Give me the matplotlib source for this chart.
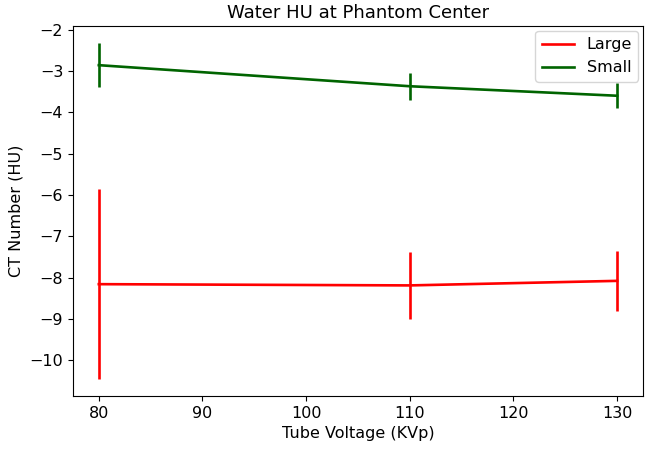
import numpy as np
import matplotlib
matplotlib.use('Agg')
import matplotlib.pyplot as plt

# Tube voltages and measured water CT numbers
kvp = [80, 110, 130]
large_mean = [-8.16, -8.19, -8.08]
large_std = [2.30, 0.81, 0.73]
small_mean = [-2.86, -3.37, -3.60]
small_std = [0.54, 0.33, 0.30]

plt.rcParams['font.size'] = 11.5

fig = plt.figure(figsize=(6.45, 4.49), dpi=100)
ax = fig.add_subplot(111)
fig.subplots_adjust(left=0.113, right=0.997, top=0.942, bottom=0.118)

lw = 1.9
ax.plot(kvp, large_mean, color='red', lw=lw, label='Large')
ax.errorbar(kvp, large_mean, yerr=large_std, fmt='none', ecolor='red', elinewidth=lw)
ax.plot(kvp, small_mean, color='darkgreen', lw=lw, label='Small')
ax.errorbar(kvp, small_mean, yerr=small_std, fmt='none', ecolor='darkgreen', elinewidth=lw)

ax.set_title('Water HU at Phantom Center', fontsize=13)
ax.set_xlabel('Tube Voltage (KVp)')
ax.set_ylabel('CT Number (HU)')
ax.legend(loc='upper right', borderaxespad=0.3)

fig.savefig('out.png', dpi=100)
